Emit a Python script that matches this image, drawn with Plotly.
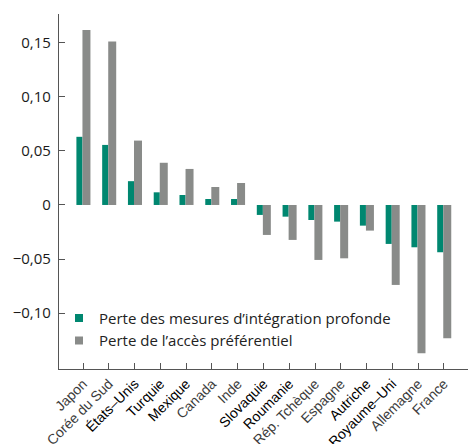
import plotly.graph_objects as go

countries = ["Japon", "Corée du Sud", "États–Unis", "Turquie", "Mexique", "Canada", "Inde",
             "Slovaquie", "Roumanie", "Rép. Tchèque", "Espagne", "Autriche", "Royaume–Uni",
             "Allemagne", "France"]
deep_integration = [0.063, 0.0555, 0.022, 0.0117, 0.0092, 0.0055, 0.0055,
                    -0.0092, -0.0108, -0.0139, -0.0154, -0.0191, -0.036, -0.0391, -0.0437]
preferential = [0.1617, 0.151, 0.0595, 0.039, 0.0333, 0.0166, 0.0203,
                -0.0277, -0.0323, -0.0508, -0.0493, -0.0237, -0.0739, -0.137, -0.1232]
bold_labels = {"États–Unis", "Turquie", "Mexique", "Slovaquie", "Roumanie", "Autriche", "Royaume–Uni"}
ytick_vals = [0.15, 0.10, 0.05, 0, -0.05, -0.10]
ytick_text = ["0,15", "0,10", "0,05", "0", "−0,05", "−0,10"]
legend_names = ["Perte des mesures d’intégration profonde", "Perte de l’accès préférentiel"]

TEAL = "#008770"
GRAY = "#898B89"
AXIS = "#555555"

xs = list(range(len(countries)))
ticktext = [(f'<span style="color:#000000">{c}</span>' if c in bold_labels
             else f'<span style="color:#3c3c3c">{c}</span>') for c in countries]

fig = go.Figure()
fig.add_trace(go.Bar(x=xs, y=deep_integration, marker_color=TEAL, width=0.235, offset=-0.26,
                     showlegend=False, marker_line_width=0))
fig.add_trace(go.Bar(x=xs, y=preferential, marker_color=GRAY, width=0.31, offset=-0.025,
                     showlegend=False, marker_line_width=0))
for name, col in zip(legend_names, [TEAL, GRAY]):
    fig.add_trace(go.Scatter(x=[None], y=[None], mode="markers", name=name,
                             marker=dict(symbol="square", size=8, color=col)))

fig.update_layout(
    width=472, height=444,
    margin=dict(l=59, r=4, t=14, b=75, autoexpand=False),
    paper_bgcolor="white", plot_bgcolor="white",
    barmode="overlay",
    font=dict(family="Open Sans", color="#222222"),
    legend=dict(x=0.0, y=0.112, xanchor="left", yanchor="middle",
                font=dict(size=15, color="#222222"), bgcolor="rgba(0,0,0,0)",
                itemsizing="trace", tracegroupgap=0),
)
fig.update_xaxes(
    range=[-0.935, 14.935], tickvals=xs, ticktext=ticktext, tickangle=-45,
    showline=True, linecolor=AXIS, linewidth=1.3, ticks="inside", ticklen=6,
    tickcolor=AXIS, tickwidth=1, showgrid=False, zeroline=False, automargin=False,
    tickfont=dict(family="Liberation Sans", size=14),
)
fig.update_yaxes(
    range=[-0.1516, 0.1765], tickvals=ytick_vals, ticktext=ytick_text,
    showline=True, linecolor=AXIS, linewidth=1.3, ticks="inside", ticklen=6,
    tickcolor=AXIS, tickwidth=1, showgrid=False, zeroline=False, automargin=False,
    tickfont=dict(family="Open Sans", size=15, color="#1a1a1a"),
    ticklabelstandoff=4,
)

fig.write_html("out.html", config={"displayModeBar": False},
               post_script="document.body.style.margin='0';")
